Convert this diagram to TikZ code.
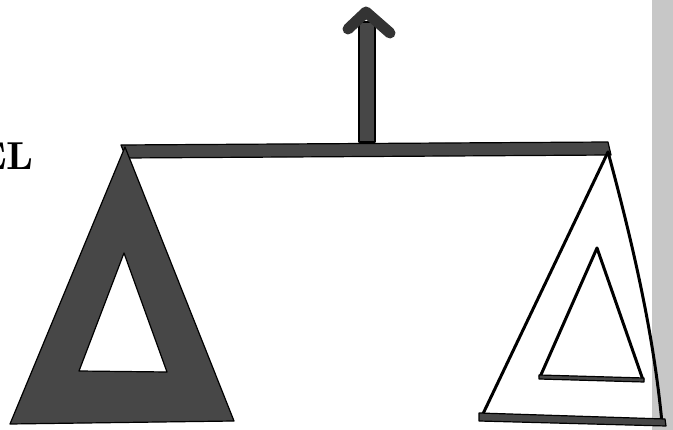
\documentclass[tikz,border=0pt]{standalone}
\usepackage{fontspec}
\usepackage{tikz}
\begin{document}
\begin{tikzpicture}[x=1pt,y=-1pt,
  darkfill/.style={fill=black!72,draw=black,line width=1.2pt,line join=round},
  thinline/.style={draw=black,line width=3pt,line cap=round,line join=round}]
\useasboundingbox (0,0) rectangle (673,430);
\fill[white] (0,0) rectangle (673,430);
% gray band at right edge
\fill[black!22] (652,0) rectangle (673,430);
% clipped heading text
\node[anchor=base east,inner sep=0pt] (title) at (34,170) {\scalebox{3.9}{\bfseries EL}};
% arrow
\fill[darkfill] (359,142) -- (359,22) -- (375,22) -- (375,142) -- cycle;
\draw[black!80,line width=11pt,line cap=round,line join=round] (348,29) -- (366,12) -- (390,33);
% beam
\fill[darkfill] (121,145) -- (608,142) -- (611,155) -- (126,158) -- cycle;
% left triangle with hole
\fill[darkfill,even odd rule] (125,147) -- (10,424) -- (234,421) -- cycle
  (124,253) -- (79,371) -- (167,372) -- cycle;
% right triangle
\draw[thinline] (608,152) -- (481,418);
\draw[thinline] (608,152) .. controls (640,270) and (655,350) .. (662,423);
\fill[darkfill] (479,413) -- (665,419) -- (666,426) -- (479,421) -- cycle;
% inner triangle
\draw[thinline] (597,248) -- (540,377);
\draw[thinline] (597,248) -- (643,380);
\fill[darkfill] (539,375) -- (644,378) -- (644,382) -- (539,379) -- cycle;
\end{tikzpicture}
\end{document}
